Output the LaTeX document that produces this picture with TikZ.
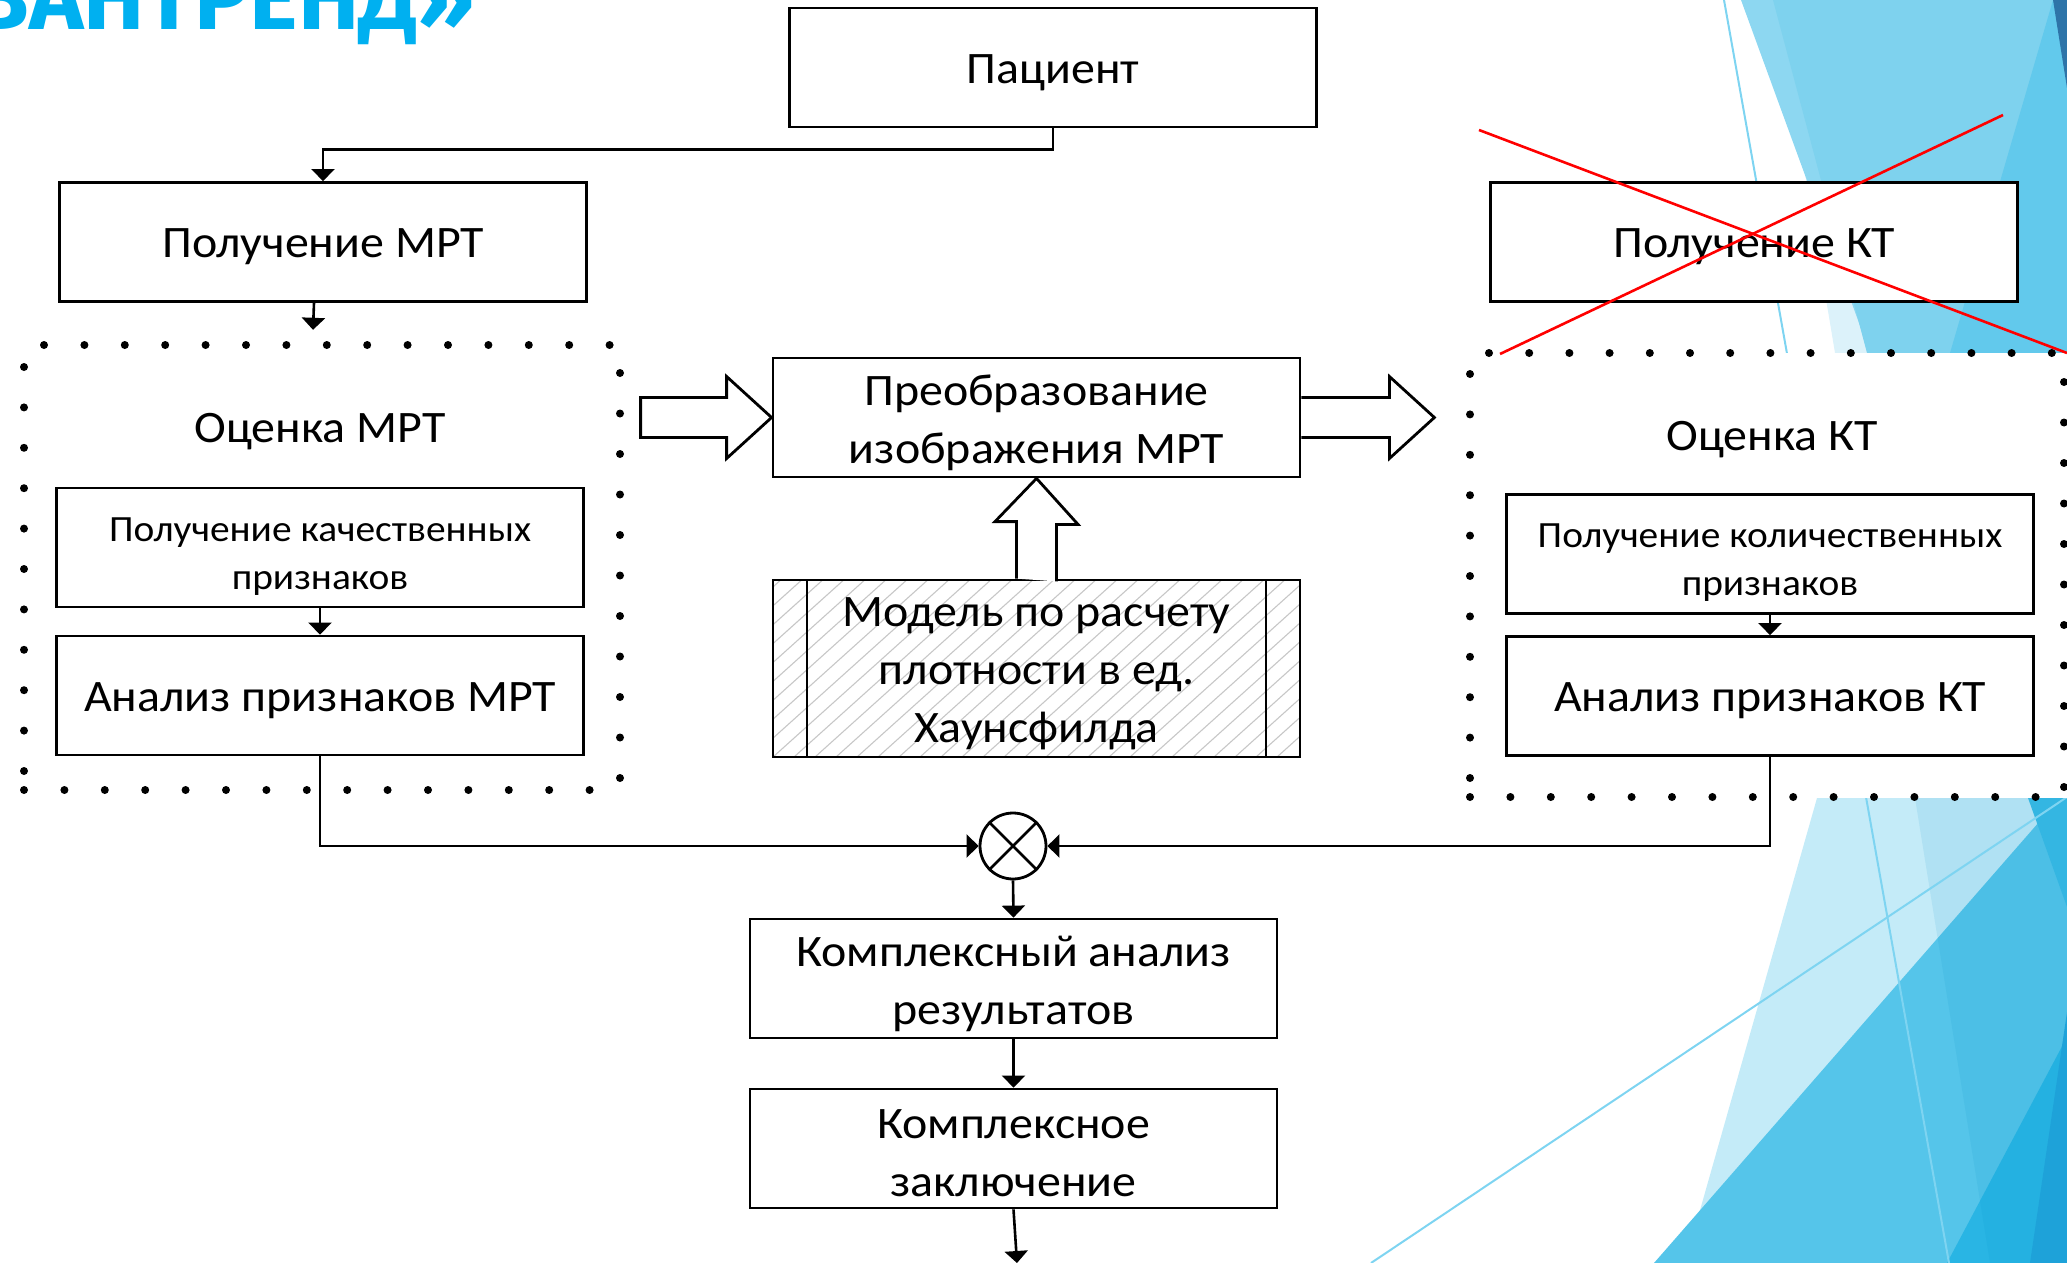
\documentclass[tikz,border=0pt]{standalone}
\usepackage{fontspec}
\setmainfont{Carlito}[FakeStretch=1.065]
\newfontfamily\titlefnt{Fira Sans}
\usetikzlibrary{arrows.meta,calc}
\definecolor{ttl}{HTML}{00B0F0}
\definecolor{bgV}{HTML}{DCF2FA}
\definecolor{bgP}{HTML}{8DD7F1}
\definecolor{bgQ}{HTML}{7ED2EE}
\definecolor{bgR}{HTML}{62C9EC}
\definecolor{bgS}{HTML}{2E74A8}
\definecolor{bgA}{HTML}{C4EBF8}
\definecolor{bgB}{HTML}{55C5EA}
\definecolor{bgC}{HTML}{29B5E4}
\definecolor{bgD}{HTML}{22A5DC}
\definecolor{bgE}{HTML}{3BBBE6}
\definecolor{thin}{HTML}{7ED4F1}
\newcommand\bigfnt{\fontsize{45}{58}\selectfont}
\newcommand\smallfnt{\fontsize{37}{48}\selectfont}
\tikzset{
  box/.style={draw, line width=2.8pt, fill=white, minimum width=527pt, minimum height=119pt, inner sep=0pt},
  txt/.style={align=center, inner sep=0pt, font=\bigfnt, yshift=-5pt},
  smalltxt/.style={txt, font=\smallfnt, yshift=-4pt},
  conn/.style={line width=2.6pt, -{Triangle[length=12pt,width=23pt]}},
  plain/.style={line width=2.6pt},
  dots/.style={line width=8pt, line cap=round, dash pattern=on 0pt off 40.4pt},
  blockarrow/.style={line width=2.8pt, fill=white, line join=miter},
  hatchline/.style={line width=1.1pt, draw=black!22},
  label/.style={anchor=base, inner sep=0pt, font=\bigfnt},
  bgthin/.style={draw=thin, line width=2pt},
}
\begin{document}
\begin{tikzpicture}[x=1pt,y=-1pt]
\useasboundingbox (0,0) rectangle (2067,1263);
\clip (0,0) rectangle (2067,1263);
% background decoration (top right)
\fill[bgV] (1776,0) -- (2067,0) -- (2067,353) -- (1835,353) -- cycle;
\fill[bgP] (1741,0) -- (2067,0) -- (2067,353) -- (1870,353) -- cycle;
\fill[bgQ] (1773,0) -- (2067,0) -- (2067,353) -- (1867,353) -- cycle;
\fill[bgR] (2053,0) -- (2067,0) -- (2067,353) -- (1950,353) -- cycle;
\fill[bgS] (2053,0) -- (2067,0) -- (2067,88) -- cycle;
% background decoration (bottom right)
\fill[bgA] (1817,798) -- (2067,798) -- (2067,1263) -- (1685,1263) -- cycle;
\fill[bgB] (2060,798) -- (2067,798) -- (2067,1263) -- (1654,1263) -- cycle;
\fill[bgE] (2028,798) -- (2067,798) -- (2067,907) -- cycle;
\fill[bgC] (1947,1263) -- (2067,1037) -- (2067,1263) -- cycle;
\fill[bgD] (2030,1263) -- (2067,1012) -- (2067,1263) -- cycle;
\fill[fill={rgb,255:red,0;green,144;blue,200}, opacity=0.1] (1915,798) -- (2067,798) -- (2067,1263) -- (1990,1263) -- cycle;
\draw[bgthin] (1724,0) -- (1949,1263);
\draw[bgthin] (1371,1263) -- (2067,797);

% title fragment
\node[anchor=base east, inner sep=0pt, text=ttl, font=\titlefnt\bfseries\fontsize{92}{92}\selectfont] (title) at (475,30) {ВАНТРЕНД»};

% frames
\node[fill=white, inner sep=0pt, minimum width=600pt, minimum height=445pt] (rframe) at (1767,575.5) {};
\node[inner sep=0pt, minimum width=596pt, minimum height=445pt] (lframe) at (322,567.5) {};
\draw[dots] (44,345) -- (611,345);
\draw[dots] (24,367) -- (24,772);
\draw[dots, dash pattern=on 0pt off 40.5pt] (620,373) -- (620,780);
\draw[dots] (24,790) -- (592,790);
\draw[dots, dash pattern=on 0pt off 40.2pt] (1489,353) -- (2054,353);
\draw[dots] (1470,374) -- (1470,780);
\draw[dots] (1470,797) -- (2038,797);
\draw[dots, dash pattern=on 0pt off 40.5pt] (2064,382) -- (2064,789);

% boxes
\node[box] (pac) at (1053,67.5) {};
\node[txt] (pac-t) at (pac) {Пациент};
\node[box] (mrt) at (323,242) {};
\node[txt] (mrt-t) at (mrt) {Получение МРТ};
\node[box] (kt) at (1754,242) {};
\node[txt] (kt-t) at (kt) {Получение КТ};
\node[label] (omrt) at (320,442) {Оценка МРТ};
\node[label] (okt) at (1772,450) {Оценка КТ};
\node[box] (qual) at (320,547.5) {};
\node[smalltxt] (qual-t) at (qual) {Получение качественных\\признаков};
\node[box] (anm) at (320,695.5) {};
\node[txt] (anm-t) at (anm) {Анализ признаков МРТ};
\node[box] (quan) at (1770,554) {};
\node[smalltxt] (quan-t) at (quan) {Получение количественных\\признаков};
\node[box] (ankt) at (1770,696) {};
\node[txt] (ankt-t) at (ankt) {Анализ признаков КТ};
\node[box] (prb) at (1036.5,417.5) {};
\node[txt] (prb-t) at (prb) {Преобразование\\изображения МРТ};
\node[box, minimum height=177pt, path picture={
    \foreach \k in {-12,...,27}
      \draw[hatchline] ($(path picture bounding box.south west)+(\k*21,0)$) -- ++(250,-225);
    \draw[line width=2.8pt] ($(path picture bounding box.south west)+(34,0)$) -- ($(path picture bounding box.north west)+(34,0)$);
    \draw[line width=2.8pt] ($(path picture bounding box.south east)+(-34,0)$) -- ($(path picture bounding box.north east)+(-34,0)$);
  }] (mdl) at (1036.5,668.5) {};
\node[txt] (mdl-t) at (mdl) {Модель по расчету\\плотности в ед.\\Хаунсфилда};
\node[circle, draw, line width=2.8pt, fill=white, minimum size=66pt, inner sep=0pt] (jn) at (1013,846) {};
\draw[plain] (jn.north east) -- (jn.south west) (jn.north west) -- (jn.south east);
\node[box] (kan) at (1013.5,978.5) {};
\node[txt] (kan-t) at (kan) {Комплексный анализ\\результатов};
\node[box] (kzk) at (1013.5,1148.5) {};
\node[txt] (kzk-t) at (kzk) {Комплексное\\заключение};
\coordinate (out) at (1017,1263);

% connectors
\draw[conn] (pac.south) -- ++(0,21) -| (mrt.north);
\draw[conn] ([xshift=-9pt]mrt.south) -- ([xshift=-9pt,yshift=15pt]lframe.north);
\draw[conn] (qual.south) -- (anm.north);
\draw[conn] (quan.south) -- (ankt.north);
\draw[conn] (anm.south) |- (jn.west);
\draw[conn] (ankt.south) |- (jn.east);
\draw[conn] (jn.south) -- (kan.north);
\draw[conn] (kan.south) -- (kzk.north);
\draw[conn] (kzk.south) -- (out);

% block arrows
\draw[blockarrow] ($(prb.west)+(-131,-20)$) -- ++(86,0) -- ++(0,-21) -- (prb.west) -- ++(-45,41) -- ++(0,-21) -- ++(-86,0) -- cycle;
\draw[blockarrow] ($(prb.east)+(0,-20)$) -- ++(88,0) -- ++(0,-21) -- ++(45,41) -- ++(-45,41) -- ++(0,-21) -- ++(-88,0);
\draw[blockarrow] ($(mdl.north)+(-20,0)$) -- ++(0,-57) -- ++(-21.5,0) -- (prb.south) -- ++(41.5,46) -- ++(-21.5,0) -- ++(0,57);

% cross-out
\draw[red, line width=2.6pt] (1479,130) -- (2067,353);
\draw[red, line width=2.6pt] (1500,354) -- (2003,115);
\end{tikzpicture}
\end{document}
